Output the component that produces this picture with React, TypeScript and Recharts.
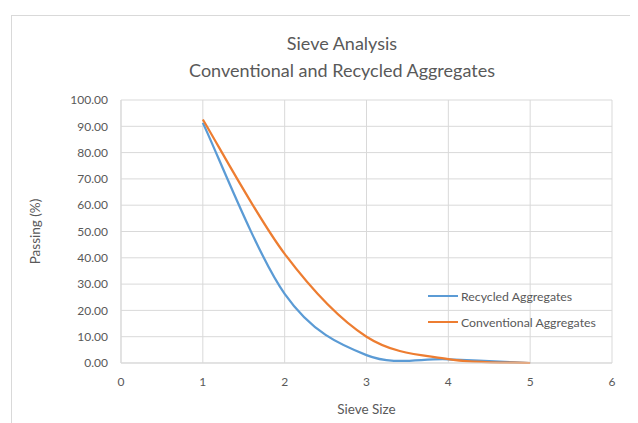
import { LineChart, Line, XAxis, YAxis, CartesianGrid, Label } from "recharts"

const sieveSizes = [1, 2, 3, 4, 5]
const recycled = [91.3, 26.3, 3.0, 1.4, 0]
const conventional = [92.6, 41.5, 10.0, 1.5, 0]
const xTicks = [0, 1, 2, 3, 4, 5, 6]
const yTicks = [0, 10, 20, 30, 40, 50, 60, 70, 80, 90, 100]

const data = sieveSizes.map((s, i) => ({
  size: s,
  recycled: recycled[i],
  conventional: conventional[i],
}))

const FONT = "Lato, 'Open Sans', sans-serif"
const TEXT = "#595959"

// Excel-like smoothed line (Catmull-Rom through points)
function excelCurve(context: any) {
  let pts: number[][] = []
  return {
    areaStart() {},
    areaEnd() {},
    lineStart() {
      pts = []
    },
    point(x: number, y: number) {
      pts.push([+x, +y])
    },
    lineEnd() {
      if (!pts.length) return
      context.moveTo(pts[0][0], pts[0][1])
      for (let i = 0; i < pts.length - 1; i++) {
        const p0 = pts[i - 1] || pts[i]
        const p1 = pts[i]
        const p2 = pts[i + 1]
        const p3 = pts[i + 2] || pts[i + 1]
        context.bezierCurveTo(
          p1[0] + (p2[0] - p0[0]) / 6,
          p1[1] + (p2[1] - p0[1]) / 6,
          p2[0] - (p3[0] - p1[0]) / 6,
          p2[1] - (p3[1] - p1[1]) / 6,
          p2[0],
          p2[1]
        )
      }
    },
  }
}

const legendItems = [
  { name: "Recycled Aggregates", color: "#5b9bd5" },
  { name: "Conventional Aggregates", color: "#ed7d31" },
]

export default function App() {
  return (
    <div style={{ position: "relative", width: 630, height: 415, fontFamily: FONT }}>
      <div
        style={{
          position: "absolute",
          left: 3,
          top: 7,
          width: 627,
          height: 408,
          borderLeft: "1px solid #d9d9d9",
          borderTop: "1px solid #d9d9d9",
        }}
      />
      <div
        style={{
          position: "absolute",
          left: 0,
          width: 668,
          top: 22,
          textAlign: "center",
          color: TEXT,
          fontSize: 18,
          lineHeight: "27px",
        }}
      >
        Sieve Analysis
        <br />
        Conventional and Recycled Aggregates
      </div>

      <LineChart
        width={630}
        height={415}
        data={data}
        margin={{ top: 92, right: 26, bottom: 0, left: 53 }}
        style={{ position: "absolute", left: 0, top: 0 }}
      >
        <CartesianGrid stroke="#d9d9d9" />
        <XAxis
          dataKey="size"
          type="number"
          domain={[0, 6]}
          ticks={xTicks}
          height={60}
          stroke="#d9d9d9"
          tickLine={false}
          tickSize={0}
          tickMargin={14}
          tick={{ fill: TEXT, fontSize: 12, fontFamily: FONT }}
          interval={0}
        >
          <Label
            value="Sieve Size"
            position="insideBottom"
            offset={9}
            style={{ fill: TEXT, fontSize: 13.5, fontFamily: FONT }}
          />
        </XAxis>
        <YAxis
          type="number"
          domain={[0, 100]}
          ticks={yTicks}
          width={60}
          stroke="#d9d9d9"
          tickLine={false}
          tickSize={0}
          tickMargin={13}
          tickFormatter={(v: number) => v.toFixed(2)}
          tick={{ fill: TEXT, fontSize: 12, fontFamily: FONT }}
          interval={0}
        >
          <Label
            value="Passing (%)"
            angle={-90}
            position="insideLeft"
            offset={-26}
            style={{ fill: TEXT, fontSize: 13.5, fontFamily: FONT, textAnchor: "middle" }}
          />
        </YAxis>
        <Line
          dataKey="recycled"
          type={excelCurve as any}
          stroke="#5b9bd5"
          strokeWidth={2.25}
          dot={false}
          isAnimationActive={false}
        />
        <Line
          dataKey="conventional"
          type={excelCurve as any}
          stroke="#ed7d31"
          strokeWidth={2.25}
          dot={false}
          isAnimationActive={false}
        />
      </LineChart>

      <div style={{ position: "absolute", left: 420, top: 275 }}>
        {legendItems.map((item) => (
          <div
            key={item.name}
            style={{ display: "flex", alignItems: "center", height: 26, color: TEXT, fontSize: 12.3 }}
          >
            <span
              style={{
                display: "inline-block",
                width: 30,
                height: 2.5,
                background: item.color,
                marginRight: 3,
              }}
            />
            {item.name}
          </div>
        ))}
      </div>
    </div>
  )
}
